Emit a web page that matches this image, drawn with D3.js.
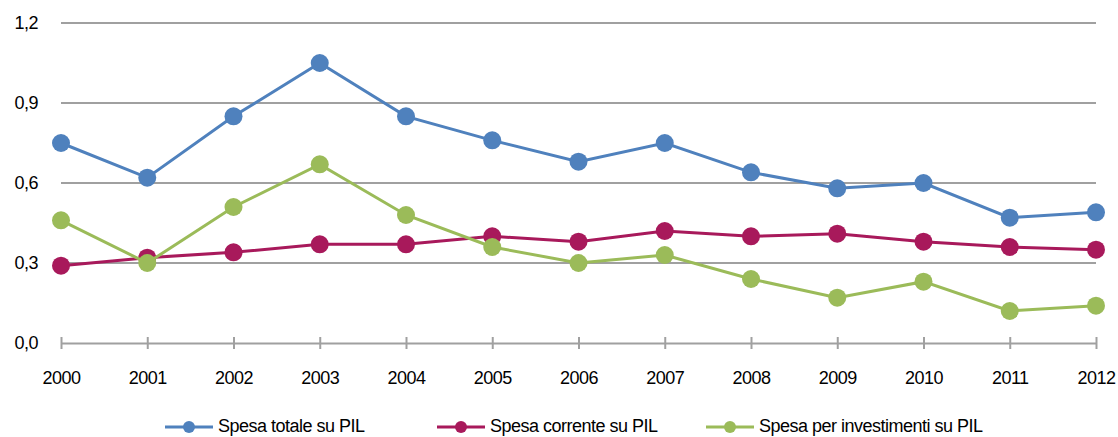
<!DOCTYPE html>
<html>
<head>
<meta charset="utf-8">
<script src="https://cdn.jsdelivr.net/npm/d3@7"></script>
<style>
  body { margin: 0; background: #fff; }
  svg text { font-family: "Liberation Sans", Arial, sans-serif; fill: #000; letter-spacing: -0.5px; }
</style>
</head>
<body>
<svg id="chart" width="1118" height="437"></svg>
<script>
// dati
var years = [2000, 2001, 2002, 2003, 2004, 2005, 2006, 2007, 2008, 2009, 2010, 2011, 2012];
var spesaTotale = [0.75, 0.62, 0.85, 1.05, 0.85, 0.76, 0.68, 0.75, 0.64, 0.58, 0.60, 0.47, 0.49];
var spesaCorrente = [0.29, 0.32, 0.34, 0.37, 0.37, 0.40, 0.38, 0.42, 0.40, 0.41, 0.38, 0.36, 0.35];
var spesaInvestimenti = [0.46, 0.30, 0.51, 0.67, 0.48, 0.36, 0.30, 0.33, 0.24, 0.17, 0.23, 0.12, 0.14];
var yTicks = [0, 0.3, 0.6, 0.9, 1.2];
var seriesNames = ["Spesa totale su PIL", "Spesa corrente su PIL", "Spesa per investimenti su PIL"];
var colors = ["#4f81bd", "#a8195b", "#9bbb59"];

var series = [spesaTotale, spesaCorrente, spesaInvestimenti];

var svg = d3.select("#chart");

var x = d3.scaleLinear().domain([2000, 2012]).range([61, 1096]);
var y = d3.scaleLinear().domain([0, 1.2]).range([343, 23]);

var fmt = function(d) { return d3.format(".1f")(d).replace(".", ","); };

// griglia orizzontale
svg.append("g")
  .selectAll("line")
  .data(yTicks.filter(function(d) { return d > 0; }))
  .enter().append("line")
  .attr("x1", 61).attr("x2", 1096)
  .attr("y1", function(d) { return y(d); })
  .attr("y2", function(d) { return y(d); })
  .attr("stroke", "#a0a0a0")
  .attr("stroke-width", 2);

// etichette asse y
svg.append("g")
  .selectAll("text")
  .data(yTicks)
  .enter().append("text")
  .attr("x", 38)
  .attr("y", function(d) { return y(d); })
  .attr("dy", "0.35em")
  .attr("text-anchor", "end")
  .attr("font-size", 18)
  .text(fmt);

// asse x
var xAxis = d3.axisBottom(x)
  .tickValues(years)
  .tickFormat(d3.format("d"))
  .tickSizeInner(6)
  .tickSizeOuter(0)
  .tickPadding(22);

var gx = svg.append("g")
  .attr("transform", "translate(0," + y(0) + ")")
  .call(xAxis);
gx.select(".domain").attr("stroke", "#a0a0a0").attr("stroke-width", 2);
gx.selectAll(".tick line")
  .attr("y1", -6).attr("y2", 6)
  .attr("stroke", "#a0a0a0").attr("stroke-width", 2);
gx.selectAll(".tick text")
  .attr("font-size", 18)
  .attr("font-family", "Liberation Sans, Arial, sans-serif")
  .attr("fill", "#000");

// linee e marcatori
var line = d3.line()
  .x(function(d, i) { return x(years[i]); })
  .y(function(d) { return y(d); });

series.forEach(function(s, k) {
  svg.append("path")
    .datum(s)
    .attr("d", line)
    .attr("fill", "none")
    .attr("stroke", colors[k])
    .attr("stroke-width", 3);

  svg.append("g")
    .selectAll("circle")
    .data(s)
    .enter().append("circle")
    .attr("cx", function(d, i) { return x(years[i]); })
    .attr("cy", function(d) { return y(d); })
    .attr("r", 9)
    .attr("fill", colors[k]);
});

// legenda
var legendX = [165, 437, 706];
var legend = svg.append("g");
seriesNames.forEach(function(name, k) {
  var g = legend.append("g").attr("transform", "translate(" + legendX[k] + ",427)");
  g.append("line").attr("x1", 0).attr("x2", 48).attr("y1", 0).attr("y2", 0)
    .attr("stroke", colors[k]).attr("stroke-width", 3);
  g.append("circle").attr("cx", 24).attr("cy", 0).attr("r", 6).attr("fill", colors[k]);
  g.append("text").attr("x", 53).attr("y", 0).attr("dy", "0.3em")
    .attr("font-size", 18).text(name);
});
</script>
</body>
</html>
